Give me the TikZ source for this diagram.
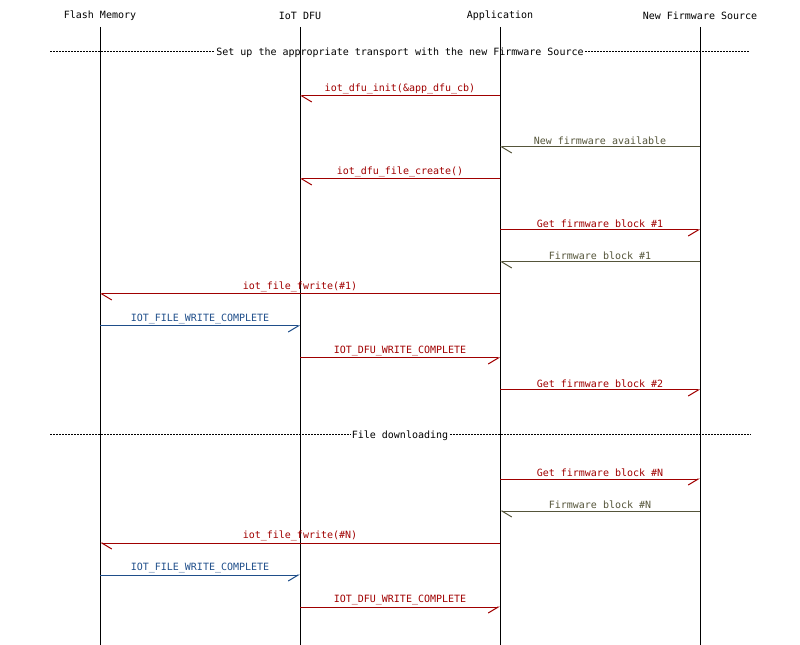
\documentclass[tikz,border=0pt]{standalone}
\usepackage{fontspec}
\setmainfont{DejaVu Sans Mono}
\usetikzlibrary{arrows.meta}
\definecolor{msgred}{HTML}{A00000}
\definecolor{msgolive}{HTML}{55553A}
\definecolor{msgblue}{HTML}{1F4E8A}

\begin{document}
\begin{tikzpicture}[x=0.75pt,y=-0.75pt,font=\fontsize{7.5}{9}\selectfont]

\tikzstyle{entity} = [inner sep=1pt];
\tikzstyle{life} = [draw=black, line width=0.75pt];
\tikzstyle{msg} = [line width=0.75pt];
\tikzstyle{toleft} = [msg, -{Straight Barb[left,length=7.5pt,width=9pt]}];
\tikzstyle{toright} = [msg, -{Straight Barb[right,length=7.5pt,width=9pt]}];
\tikzstyle{lbl} = [above, inner sep=0pt, yshift=1.2pt];
\tikzstyle{divider} = [line width=0.75pt, dash pattern=on 1.5pt off 0.75pt];
\useasboundingbox (0,0) rectangle (800,645);

% entities
\node[entity] (fm) at (100,15.5) {Flash Memory};
\node[entity] (dfu) at (300,15.5) {IoT DFU};
\node[entity] (app) at (500,15.5) {Application};
\node[entity] (src) at (700,15.5) {New Firmware Source};

% dividers
\node[fill=white,inner sep=1pt] (setup) at (400,52.5) {Set up the appropriate transport with the new Firmware Source};
\draw[divider] (50,51.5) -- (setup.west |- 0,51.5);
\draw[divider] (setup.east |- 0,51.5) -- (750,51.5);
\node[fill=white,inner sep=1pt] (dl) at (400,435.5) {File downloading};
\draw[divider] (50,434.5) -- (dl.west |- 0,434.5);
\draw[divider] (dl.east |- 0,434.5) -- (750,434.5);

% lifelines
\draw[life] (fm |- 0,27) -- (fm |- 0,645);
\draw[life] (dfu |- 0,27) -- (dfu |- 0,645);
\draw[life] (app |- 0,27) -- (app |- 0,645);
\draw[life] (src |- 0,27) -- (src |- 0,645);

% messages
\draw[toleft,msgred] (app |- 0,96) -- node[lbl] {iot\_dfu\_init(\&app\_dfu\_cb)} (dfu |- 0,96);
\draw[toleft,msgolive] (src |- 0,147) -- node[lbl] {New firmware available} (app |- 0,147);
\draw[toleft,msgred] (app |- 0,179) -- node[lbl] {iot\_dfu\_file\_create()} (dfu |- 0,179);
\draw[toright,msgred] (app |- 0,230) -- node[lbl] {Get firmware block \#1} (src |- 0,230);
\draw[toleft,msgolive] (src |- 0,262) -- node[lbl] {Firmware block \#1} (app |- 0,262);
\draw[toleft,msgred] (app |- 0,294) -- node[lbl] {iot\_file\_fwrite(\#1)} (fm |- 0,294);
\draw[toright,msgblue] (fm |- 0,326) -- node[lbl] {IOT\_FILE\_WRITE\_COMPLETE} (dfu |- 0,326);
\draw[toright,msgred] (dfu |- 0,358) -- node[lbl] {IOT\_DFU\_WRITE\_COMPLETE} (app |- 0,358);
\draw[toright,msgred] (app |- 0,390) -- node[lbl] {Get firmware block \#2} (src |- 0,390);

\draw[toright,msgred] (app |- 0,479) -- node[lbl] {Get firmware block \#N} (src |- 0,479);
\draw[toleft,msgolive] (src |- 0,511) -- node[lbl] {Firmware block \#N} (app |- 0,511);
\draw[toleft,msgred] (app |- 0,543) -- node[lbl] {iot\_file\_fwrite(\#N)} (fm |- 0,543);
\draw[toright,msgblue] (fm |- 0,575) -- node[lbl] {IOT\_FILE\_WRITE\_COMPLETE} (dfu |- 0,575);
\draw[toright,msgred] (dfu |- 0,607) -- node[lbl] {IOT\_DFU\_WRITE\_COMPLETE} (app |- 0,607);

\end{tikzpicture}
\end{document}
